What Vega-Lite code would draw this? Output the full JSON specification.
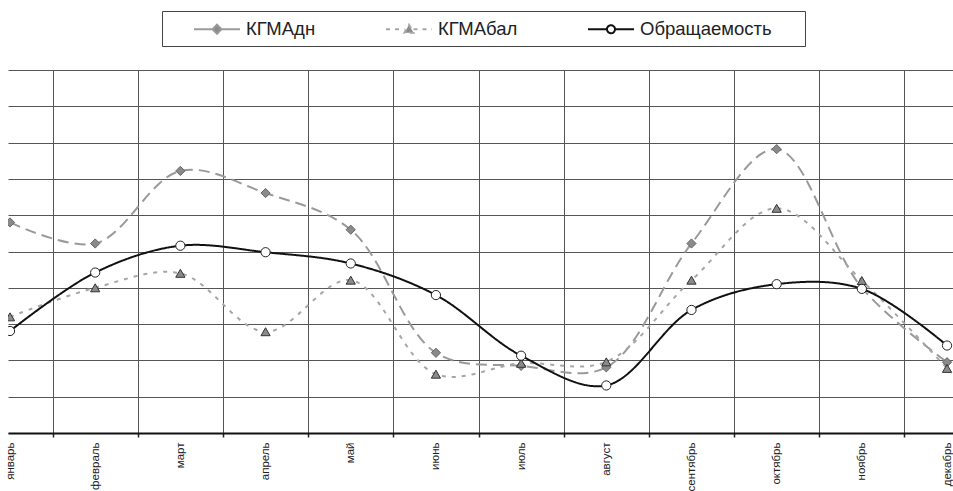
{
  "$schema": "https://vega.github.io/schema/vega-lite/v6.json",
  "width": 945,
  "height": 363,
  "autosize": {"type": "none"},
  "padding": {"left": 8, "top": 70, "right": 0, "bottom": 58},
  "background": "white",
  "config": {"view": {"stroke": null}, "font": "Liberation Sans"},
  "data": {
    "values": [
      {"m": 1, "series": "КГМАдн", "value": 5.80},
      {"m": 2, "series": "КГМАдн", "value": 5.22},
      {"m": 3, "series": "КГМАдн", "value": 7.22},
      {"m": 4, "series": "КГМАдн", "value": 6.61},
      {"m": 5, "series": "КГМАдн", "value": 5.60},
      {"m": 6, "series": "КГМАдн", "value": 2.21},
      {"m": 7, "series": "КГМАдн", "value": 1.85},
      {"m": 8, "series": "КГМАдн", "value": 1.81},
      {"m": 9, "series": "КГМАдн", "value": 5.22},
      {"m": 10, "series": "КГМАдн", "value": 7.82},
      {"m": 11, "series": "КГМАдн", "value": 4.00},
      {"m": 12, "series": "КГМАдн", "value": 1.95},
      {"m": 1, "series": "КГМАбал", "value": 3.20},
      {"m": 2, "series": "КГМАбал", "value": 4.00},
      {"m": 3, "series": "КГМАбал", "value": 4.40},
      {"m": 4, "series": "КГМАбал", "value": 2.79},
      {"m": 5, "series": "КГМАбал", "value": 4.21},
      {"m": 6, "series": "КГМАбал", "value": 1.62},
      {"m": 7, "series": "КГМАбал", "value": 1.92},
      {"m": 8, "series": "КГМАбал", "value": 1.96},
      {"m": 9, "series": "КГМАбал", "value": 4.21},
      {"m": 10, "series": "КГМАбал", "value": 6.19},
      {"m": 11, "series": "КГМАбал", "value": 4.20},
      {"m": 12, "series": "КГМАбал", "value": 1.78},
      {"m": 1, "series": "Обращаемость", "value": 2.81},
      {"m": 2, "series": "Обращаемость", "value": 4.42},
      {"m": 3, "series": "Обращаемость", "value": 5.16},
      {"m": 4, "series": "Обращаемость", "value": 4.98},
      {"m": 5, "series": "Обращаемость", "value": 4.67},
      {"m": 6, "series": "Обращаемость", "value": 3.80},
      {"m": 7, "series": "Обращаемость", "value": 2.13},
      {"m": 8, "series": "Обращаемость", "value": 1.31},
      {"m": 9, "series": "Обращаемость", "value": 3.39},
      {"m": 10, "series": "Обращаемость", "value": 4.10},
      {"m": 11, "series": "Обращаемость", "value": 3.97},
      {"m": 12, "series": "Обращаемость", "value": 2.41}
    ]
  },
  "encoding": {
    "x": {
      "field": "m",
      "type": "quantitative",
      "scale": {"domain": [0.9765, 12.07], "nice": false, "zero": false},
      "axis": {
        "title": null,
        "values": [1, 1.5, 2, 2.5, 3, 3.5, 4, 4.5, 5, 5.5, 6, 6.5, 7, 7.5, 8, 8.5, 9, 9.5, 10, 10.5, 11, 11.5, 12],
        "labelExpr": "datum.value % 1 === 0 ? ['январь','февраль','март','апрель','май','июнь','июль','август','сентябрь','октябрь','ноябрь','декабрь'][datum.value - 1] : ''",
        "labelAngle": -90,
        "labelAlign": "right",
        "labelBaseline": "middle",
        "labelFontSize": 11.5,
        "labelColor": "#222222",
        "labelPadding": 5,
        "labelOverlap": false,
        "labelFlush": false,
        "labelBound": false,
        "grid": true,
        "gridColor": "#555555",
        "gridWidth": 1,
        "gridOpacity": {"condition": {"test": "datum.value % 1 === 0", "value": 0}, "value": 1},
        "tickOpacity": {"condition": {"test": "datum.value % 1 === 0", "value": 0}, "value": 1},
        "tickColor": "#222222",
        "tickSize": 4,
        "tickWidth": 1.5,
        "domainColor": "#111111",
        "domainWidth": 2
      }
    },
    "y": {
      "field": "value",
      "type": "quantitative",
      "scale": {"domain": [0, 10], "nice": false, "zero": true},
      "axis": {
        "title": null,
        "values": [0, 1, 2, 3, 4, 5, 6, 7, 8, 9, 10],
        "grid": true,
        "gridColor": "#555555",
        "gridWidth": 1,
        "labels": false,
        "ticks": false,
        "domain": false
      }
    }
  },
  "resolve": {
    "scale": {"shape": "independent", "fill": "independent", "stroke": "independent", "strokeDash": "independent", "strokeWidth": "independent", "color": "independent"}
  },
  "layer": [
    {
      "mark": {"type": "line", "interpolate": "catmull-rom", "clip": true},
      "encoding": {
        "color": {
          "field": "series",
          "type": "nominal",
          "scale": {"domain": ["КГМАдн", "КГМАбал", "Обращаемость"], "range": ["#9a9a9a", "#a6a6a6", "#111111"]},
          "legend": null
        },
        "strokeDash": {
          "field": "series",
          "type": "nominal",
          "scale": {"domain": ["КГМАдн", "КГМАбал", "Обращаемость"], "range": [[11, 6], [4, 6], [1, 0]]},
          "legend": null
        },
        "strokeWidth": {
          "field": "series",
          "type": "ordinal",
          "scale": {"domain": ["КГМАдн", "КГМАбал", "Обращаемость"], "range": [2, 2, 3.2]},
          "legend": null
        }
      }
    },
    {
      "mark": {"type": "point", "filled": true, "size": 85, "clip": true, "strokeWidth": 1, "opacity": 1},
      "encoding": {
        "shape": {
          "field": "series",
          "type": "nominal",
          "scale": {"domain": ["КГМАдн", "КГМАбал", "Обращаемость"], "range": ["diamond", "triangle-up", "circle"]},
          "legend": null
        },
        "fill": {
          "field": "series",
          "type": "nominal",
          "scale": {"domain": ["КГМАдн", "КГМАбал", "Обращаемость"], "range": ["#8a8a8a", "#8a8a8a", "#ffffff"]},
          "legend": null
        },
        "stroke": {
          "field": "series",
          "type": "nominal",
          "scale": {"domain": ["КГМАдн", "КГМАбал", "Обращаемость"], "range": ["#666666", "#333333", "#222222"]},
          "legend": null
        }
      }
    },
    {
      "transform": [{"filter": "datum.m < 0"}],
      "mark": {"type": "point", "filled": false, "size": 400, "opacity": 1},
      "encoding": {
        "shape": {
          "field": "series",
          "type": "nominal",
          "scale": {
            "domain": ["КГМАдн", "КГМАбал", "Обращаемость"],
            "range": [
              "M-2.3,0H-0.45M0.45,0H2.3M0,-0.45L0.45,0L0,0.45L-0.45,0Z",
              "M-2.3,0H-0.45M0.45,0H2.3M0,-0.45L0.45,0.35L-0.45,0.35Z",
              "M-2.3,0H-0.4M0.4,0H2.3M-0.4,0A0.4,0.4,0,1,0,0.4,0A0.4,0.4,0,1,0,-0.4,0Z"
            ]
          },
          "legend": {
            "title": "\u00a0",
            "titleOrient": "left",
            "titlePadding": 37,
            "titleFontSize": 10,
            "orient": "none",
            "legendX": 154,
            "legendY": -59,
            "direction": "horizontal",
            "strokeColor": "#444444",
            "padding": 7,
            "labelFontSize": 18.5,
            "labelColor": "#222222",
            "labelOffset": 18,
            "columnPadding": 66,
            "symbolSize": 400,
            "symbolOpacity": 1,
            "labelExpr": "datum.label === 'Обращаемость' ? datum.label + '\u00a0\u00a0\u00a0\u00a0\u00a0\u200b' : datum.label"
          }
        },
        "fill": {
          "field": "series",
          "type": "nominal",
          "scale": {"domain": ["КГМАдн", "КГМАбал", "Обращаемость"], "range": ["#8a8a8a", "#8a8a8a", "#ffffff"]}
        },
        "stroke": {
          "field": "series",
          "type": "nominal",
          "scale": {"domain": ["КГМАдн", "КГМАбал", "Обращаемость"], "range": ["#9a9a9a", "#a6a6a6", "#111111"]}
        },
        "strokeDash": {
          "field": "series",
          "type": "nominal",
          "scale": {"domain": ["КГМАдн", "КГМАбал", "Обращаемость"], "range": [[1, 0], [4, 5], [1, 0]]}
        },
        "strokeWidth": {
          "field": "series",
          "type": "ordinal",
          "scale": {"domain": ["КГМАдн", "КГМАбал", "Обращаемость"], "range": [2, 2, 3]}
        }
      }
    }
  ]
}
